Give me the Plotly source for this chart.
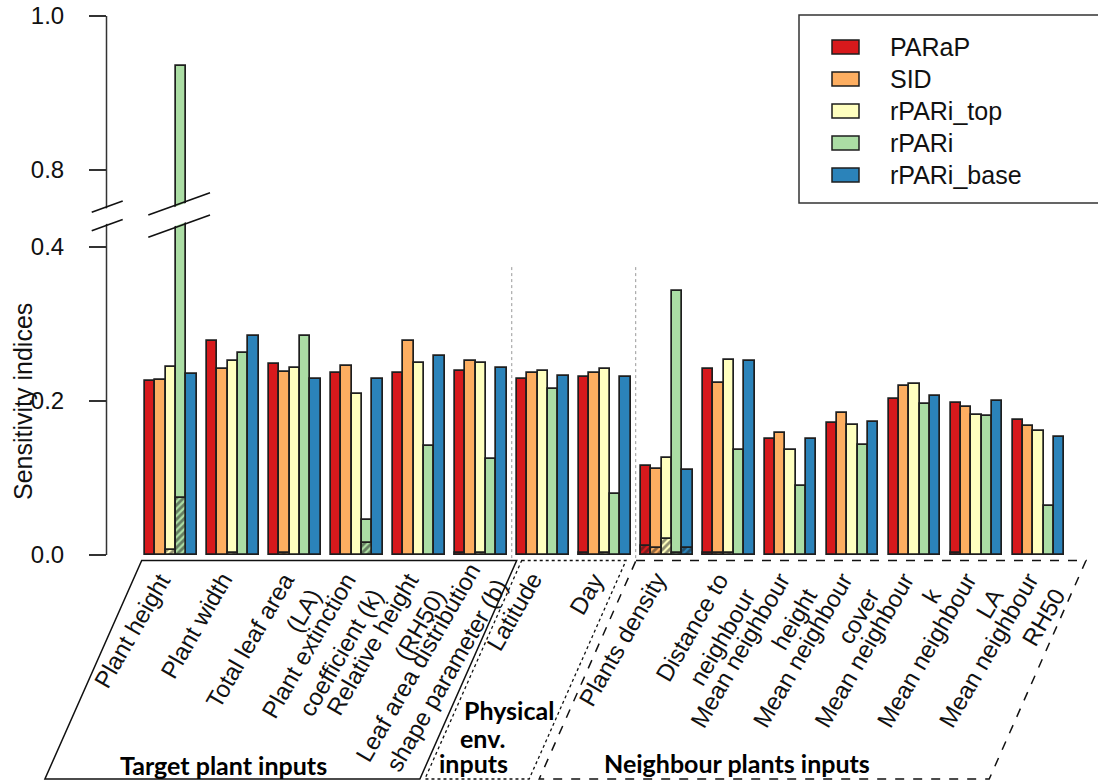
import plotly.graph_objects as go

# ---------------- data ----------------
categories = ["Plant height", "Plant width", "Total leaf area<br>(LA)",
              "Plant extinction<br>coefficient (k)", "Relative height<br>(RH50)",
              "Leaf area distribution<br>shape parameter (b)", "Latitude", "Day",
              "Plants density", "Distance to<br>neighbour", "Mean neighbour<br>height",
              "Mean neighbour<br>cover", "Mean neighbour<br>k", "Mean neighbour<br>LA",
              "Mean neighbour<br>RH50"]

series_names = ["PARaP", "SID", "rPARi_top", "rPARi", "rPARi_base"]
series_colors = ["#D7191C", "#FDAE61", "#FFFFBF", "#ABDDA4", "#2B83BA"]

# total sensitivity indices
total_PARaP = [0.226, 0.278, 0.248, 0.236, 0.237, 0.239, 0.229, 0.231, 0.116, 0.241, 0.151, 0.171, 0.202, 0.197, 0.175]
total_SID = [0.227, 0.241, 0.238, 0.245, 0.278, 0.252, 0.236, 0.237, 0.112, 0.224, 0.159, 0.185, 0.219, 0.192, 0.167]
total_rPARi_top = [0.244, 0.252, 0.243, 0.209, 0.250, 0.250, 0.239, 0.241, 0.126, 0.253, 0.136, 0.169, 0.222, 0.182, 0.161]
total_rPARi = [0.935, 0.262, 0.284, 0.046, 0.142, 0.125, 0.215, 0.079, 0.343, 0.136, 0.089, 0.143, 0.196, 0.180, 0.063]
total_rPARi_base = [0.235, 0.284, 0.229, 0.229, 0.258, 0.243, 0.233, 0.231, 0.110, 0.252, 0.151, 0.173, 0.206, 0.200, 0.153]

# first-order indices (hatched part)
first_PARaP = [None, None, None, None, None, 0.003, None, 0.003, 0.012, 0.003, None, None, None, 0.003, None]
first_SID = [None, None, 0.003, None, None, None, None, None, 0.009, 0.003, None, None, None, None, None]
first_rPARi_top = [0.007, 0.003, None, None, None, 0.003, None, 0.003, 0.021, 0.003, None, None, None, None, None]
first_rPARi = [0.074, None, None, 0.016, None, None, None, None, 0.002, None, None, None, None, None, None]
first_rPARi_base = [None, None, None, None, None, None, None, None, 0.009, None, None, None, None, None, None]

group_labels = ["Target plant inputs", "Physical", "env.", "inputs", "Neighbour plants inputs"]
ytick_values = [0.0, 0.2, 0.4, 0.8, 1.0]
ytick_labels = ["0.0", "0.2", "0.4", "0.8", "1.0"]
y_title = "Sensitivity indices"

totals = [total_PARaP, total_SID, total_rPARi_top, total_rPARi, total_rPARi_base]
firsts = [first_PARaP, first_SID, first_rPARi_top, first_rPARi, first_rPARi_base]

# ---------------- axis break ----------------
BREAK_FROM, BREAK_SHIFT = 0.45, 0.3


def disp(v):
    if v is None:
        return None
    return v if v < BREAK_FROM else v - BREAK_SHIFT


# ---------------- geometry ----------------
W, H = 1098, 782
PX_L, PX_R, PY_T, PY_B = 107, 1098, 16, 782
UNIT, X0 = 10.33, 134.7      # pixels per bar, pixel of x=0
Y0, YU = 555, 770            # pixel of y=0, pixels per unit
XMIN, XMAX = (PX_L - X0) / UNIT, (PX_R - X0) / UNIT
YMIN, YMAX = (Y0 - PY_B) / YU, (Y0 - PY_T) / YU

n_groups, n_series = len(categories), len(series_names)
STEP = n_series + 1


def bar_x(g, i):
    return g * STEP + 1.5 + i


def center(g):
    return g * STEP + 1 + n_series / 2


def pxX(px):
    return (px - PX_L) / (PX_R - PX_L)


def pxY(py):
    return (PY_B - py) / (PY_B - PY_T)


FONT = "Liberation Sans, Arial, sans-serif"
EDGE = "#1e1e1e"

fig = go.Figure()
for i in range(n_series):
    fig.add_trace(go.Bar(
        x=[bar_x(g, i) for g in range(n_groups)],
        y=[disp(v) for v in totals[i]],
        customdata=totals[i], width=1, name=series_names[i],
        marker=dict(color=series_colors[i], line=dict(color=EDGE, width=1.7), opacity=1),
        hovertemplate=series_names[i] + ": %{customdata}<extra></extra>", showlegend=False))
for i in range(n_series):
    fig.add_trace(go.Bar(
        x=[bar_x(g, i) for g in range(n_groups)],
        y=[disp(v) for v in firsts[i]],
        customdata=firsts[i], width=1, name=series_names[i] + " (first order)",
        marker=dict(color=series_colors[i], line=dict(color=EDGE, width=1.7), opacity=1,
                    pattern=dict(shape="/", fgcolor=EDGE, size=5, solidity=0.55, fillmode="overlay")),
        hovertemplate=series_names[i] + " first order: %{customdata}<extra></extra>", showlegend=False))

shapes = []
# y axis line
shapes.append(dict(type="line", xref="paper", yref="paper", x0=pxX(106.5), x1=pxX(106.5),
                   y0=pxY(Y0), y1=pxY(Y0 - YU * disp(1.0)), line=dict(color="#333", width=1.5)))

# separators between input families
for gx in [6 * STEP + 0.5, 8 * STEP + 0.5]:
    shapes.append(dict(type="line", xref="x", yref="y", x0=gx, x1=gx, y0=-0.004, y1=0.377,
                       line=dict(color="#999", width=1, dash="dot")))


def quad(p):
    return "M " + " L ".join(f"{pxX(a):.5f},{pxY(b):.5f}" for a, b in p) + " Z"


# axis break (white gap + slashes)
for (xa, ya1, xb, yb1, gap) in [(91.7, 212.3, 122.7, 201.0, 18.4), (148.3, 215.0, 210.0, 192.7, 22.3)]:
    shapes.append(dict(type="path", xref="paper", yref="paper",
                       path=quad([(xa, ya1 + 1.5), (xb, yb1 + 1.5), (xb, yb1 + gap - 1.5), (xa, ya1 + gap - 1.5)]),
                       fillcolor="white", line=dict(width=0)))
    for off in (0, gap):
        shapes.append(dict(type="line", xref="paper", yref="paper", x0=pxX(xa), y0=pxY(ya1 + off),
                           x1=pxX(xb), y1=pxY(yb1 + off), line=dict(color="#111", width=1.6)))

# group frames (parallelograms)
SLANT, TOP, BOT = 0.443, 560.5, 779.0
for (xl, xr, dash, w) in [(141.7, 516.7, "solid", 1.5), (521.7, 626.0, "dot", 1.3), (636.0, 1086.0, "dash", 1.5)]:
    d = SLANT * (BOT - TOP)
    shapes.append(dict(type="path", xref="paper", yref="paper",
                       path=quad([(xl, TOP), (xr, TOP), (xr - d, BOT), (xl - d, BOT)]),
                       line=dict(color="#111", width=w, dash=dash)))

# legend box
LEG_X0, LEG_Y0, LEG_X1, LEG_Y1 = 799, 15, 1112, 203
shapes.append(dict(type="rect", xref="paper", yref="paper", x0=pxX(LEG_X0), x1=pxX(LEG_X1),
                   y0=pxY(LEG_Y1), y1=pxY(LEG_Y0), line=dict(color="#333", width=1.5), fillcolor="white"))
annotations = []
for i in range(n_series):
    yc = 47 + 32 * i
    shapes.append(dict(type="rect", xref="paper", yref="paper", x0=pxX(832), x1=pxX(859),
                       y0=pxY(yc + 7), y1=pxY(yc - 7), fillcolor=series_colors[i],
                       line=dict(color=EDGE, width=1.5)))
    annotations.append(dict(text=series_names[i], xref="paper", yref="paper", x=pxX(888), y=pxY(yc),
                            xanchor="left", yanchor="middle", showarrow=False,
                            font=dict(family=FONT, size=25, color="#111")))

# category labels (rotated)
LAB_FS = 24
LAB_DX, LAB_DY = -15, -10
for g, lab in enumerate(categories):
    nlines = lab.count("<br>") + 1
    end_x = X0 + UNIT * center(g) - 4
    end_y = 567 if g == 5 else 577
    hbox = LAB_FS * (1.3 * (nlines - 1) + 1.2)
    ax_px = end_x + 0.866 * hbox + LAB_DX
    annotations.append(dict(text=lab, xref="x", yref="paper", x=(ax_px - X0) / UNIT, y=pxY(end_y + LAB_DY),
                            xanchor="right", yanchor="top", textangle=-60, align="right",
                            showarrow=False, borderpad=0,
                            font=dict(family=FONT, size=LAB_FS, color="#111")))

# family labels
GF = "Lato, Open Sans, sans-serif"
for txt, x, y, anc in [(group_labels[0], 223, 765, "center"), (group_labels[1], 462, 710, "left"),
                       (group_labels[2], 458, 738, "left"), (group_labels[3], 437, 763, "left"),
                       (group_labels[4], 737, 763, "center")]:
    annotations.append(dict(text="<b>" + txt + "</b>", xref="paper", yref="paper", x=pxX(x), y=pxY(y),
                            xanchor=anc, yanchor="middle", showarrow=False,
                            font=dict(family=GF, size=25, color="black")))

# y title
annotations.append(dict(text=y_title, xref="paper", yref="paper", x=pxX(23), y=pxY(402),
                        textangle=-90, showarrow=False, xanchor="center", yanchor="middle",
                        font=dict(family=FONT, size=25, color="#111")))

fig.update_layout(
    width=W, height=H, margin=dict(l=PX_L, r=W - PX_R, t=PY_T, b=H - PY_B),
    paper_bgcolor="white", plot_bgcolor="white", barmode="overlay", bargap=0,
    xaxis=dict(range=[XMIN, XMAX], visible=False, fixedrange=True),
    yaxis=dict(range=[YMIN, YMAX], tickvals=[disp(v) for v in ytick_values], ticktext=ytick_labels,
               ticks="outside", ticklen=17, tickwidth=1.5, tickcolor="#333", showgrid=False,
               zeroline=False, showline=False, ticklabelstandoff=20, fixedrange=True,
               tickfont=dict(family=FONT, size=24, color="#111")),
    shapes=shapes, annotations=annotations, showlegend=False,
)

fig.write_html("out.html", config={"displayModeBar": False},
               post_script="document.body.style.margin='0';document.body.style.overflow='hidden';")
